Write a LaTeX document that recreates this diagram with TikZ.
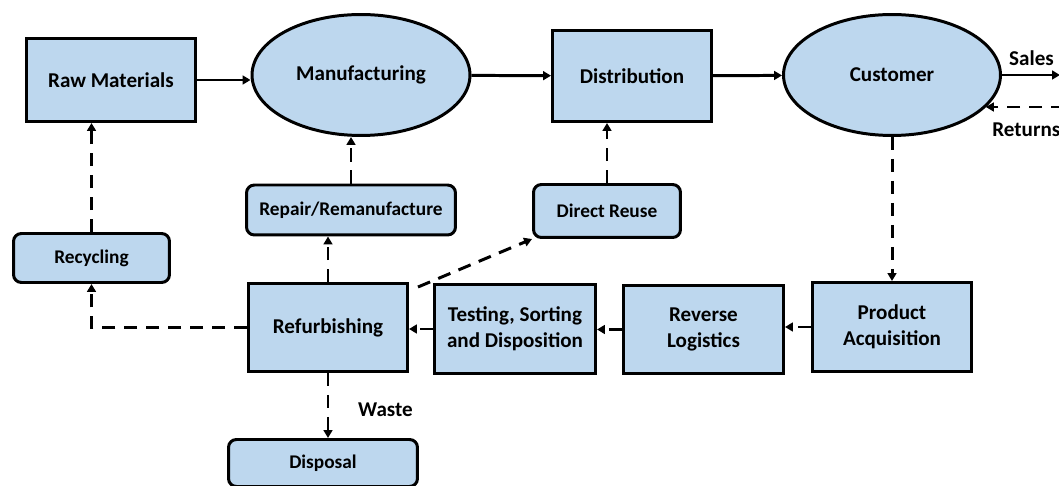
\documentclass[tikz,border=0pt]{standalone}
\usepackage{fontspec}
\setmainfont{Carlito}
\usepackage{xcolor}
\definecolor{boxblue}{HTML}{BDD7EE}
\usetikzlibrary{arrows.meta,positioning,shapes,calc}

\begin{document}
\begin{tikzpicture}[x=0.02cm, y=-0.02cm,
  box/.style={draw,line width=1.7pt,fill=boxblue,align=center,inner sep=0pt,font=\fontsize{12}{14.7}\selectfont\bfseries},
  oval/.style={box,ellipse},
  rbox/.style={box,rounded corners=4.5pt,font=\fontsize{11}{13}\selectfont\bfseries},
  lbl/.style={font=\fontsize{12}{14.7}\selectfont\bfseries,inner sep=0pt},
  flow/.style={line width=1.7pt,-{Triangle[length=4.5pt,width=5pt]}},
  back/.style={flow,dash pattern=on 7.5pt off 5pt}]
  \useasboundingbox (0,0) rectangle (1059,486);
  \clip (0,0) rectangle (1059,486);

  % Forward chain
  \node[box,minimum width=3.38cm,minimum height=1.66cm] (raw) at (111,80) {Raw Materials};
  \node[oval,minimum width=4.36cm,minimum height=2.42cm] (manu) at (361,75) {Manufacturing};
  \node[box,minimum width=3.18cm,minimum height=1.82cm] (dist) at (632,76) {Distribution};
  \node[oval,minimum width=4.34cm,minimum height=2.42cm] (cust) at (892,75) {Customer};

  % Recovery options
  \node[rbox,minimum width=4.18cm,minimum height=1.0cm] (repair) at (351,210) {Repair/Remanufacture};
  \node[rbox,minimum width=2.94cm,minimum height=1.06cm] (reuse) at (607,211) {Direct Reuse};
  \node[rbox,minimum width=3.12cm,minimum height=0.98cm] (recyc) at (91.5,258) {Recycling};
  \node[rbox,minimum width=3.78cm,minimum height=0.94cm] (disp) at (323,463) {Disposal};

  % Reverse chain
  \node[box,minimum width=3.18cm,minimum height=1.76cm] (refurb) at (328,327.5) {Refurbishing};
  \node[box,minimum width=3.22cm,minimum height=1.78cm] (test) at (515,329) {Testing, Sorting\\and Disposition};
  \node[box,minimum width=3.2cm,minimum height=1.76cm] (revlog) at (703.5,329.5) {Reverse\\Logistics};
  \node[box,minimum width=3.18cm,minimum height=1.78cm] (acq) at (892,327) {Product\\Acquisition};

  % Labels
  \node[lbl] (sales) at (1031.5,58) {Sales};
  \node[lbl,anchor=west] (returns) at (992,130) {Returns};
  \node[lbl] (waste) at (385.5,410) {Waste};
  \coordinate (salesout) at (1060,77);
  \coordinate (retin) at (1064,107);

  % Solid arrows
  \draw[flow] (raw.east) -- (raw.east -| manu.west);
  \draw[flow] (manu) -- (dist);
  \draw[flow] (dist) -- (cust);
  \draw[flow] (cust.east) -- (cust.east -| salesout);

  % Dashed arrows
  \draw[back] (retin) -- (retin -| cust.-19);
  \draw[back] (cust) -- (acq);
  \foreach \a/\b in {acq/revlog, revlog/test, test/refurb}
    \draw[back] (\a.west) -- (\a.west -| \b.east);
  \draw[back] (refurb.north) -- (refurb.north |- repair.south);
  \draw[back] (repair.north) -- (repair.north |- manu.south);
  \draw[back] ([shift={(9,5)}]refurb.north east) -- (reuse.south west);
  \draw[back] (reuse.north) -- (reuse.north |- dist.south);
  \draw[back] (refurb.west) -| (recyc.south);
  \draw[back] (recyc.north) -- (recyc.north |- raw.south);
  \draw[back] (refurb.south) -- (refurb.south |- disp.north);
\end{tikzpicture}
\end{document}
